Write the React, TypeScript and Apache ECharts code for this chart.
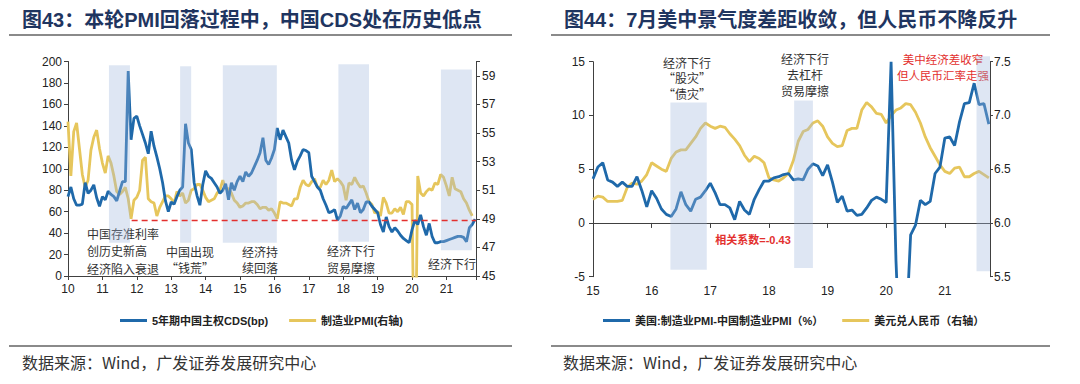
import React, { useEffect, useRef } from 'react';
import * as echarts from 'echarts';

// ---------- colours ----------
const BLUE = '#1f69aa';
const YELLOW = '#e6c65c';
const BAND = 'rgba(160,184,222,0.35)';
const AXIS = '#404040';
const RED = '#e3302e';

// ---------- Figure 43 data (monthly, start Jan 2010) ----------
const leftStartYear = 2010;
const cdsValues = [
  74, 83, 72, 66, 66, 67, 87, 77, 80, 85, 73, 65,
  74, 71, 79, 76, 74, 70, 79, 88, 88, 191, 127, 147,
  149, 140, 132, 124, 114, 135, 121, 111, 100, 87, 70, 60,
  69, 67, 74, 80, 83, 142, 124, 118, 87, 75, 66, 85,
  98, 93, 91, 87, 83, 77, 80, 86, 71, 87, 80, 88,
  93, 88, 97, 93, 96, 102, 108, 115, 129, 108, 104, 110,
  118, 138, 127, 136, 130, 124, 108, 99, 107, 112, 118, 117,
  115, 93, 88, 83, 80, 72, 66, 59, 60, 62, 52, 56,
  65, 63, 67, 71, 62, 68, 59, 62, 69, 69, 65, 62,
  59, 48, 41, 55, 46, 41, 45, 42, 38, 35, 33, 31,
  43, 52, 48, 57, 46, 38, 49, 37, 31, 31, 32, 32,
  33, 34, 35, 36, 37, 37, 36, 32, 45, 48, 53,
];
const pmiValues = [
  55.8, 52.0, 55.1, 55.7, 53.9, 52.1, 51.2, 51.7, 53.8, 54.7, 55.2, 53.9,
  52.9, 52.2, 53.4, 52.9, 52.0, 50.9, 50.7, 50.9, 51.2, 50.4, 49.0, 50.3,
  50.5, 51.0, 53.1, 53.3, 50.4, 50.2, 50.1, 49.2, 49.8, 50.2, 50.6, 50.6,
  50.4, 50.1, 50.9, 50.6, 50.8, 50.1, 50.3, 51.0, 51.1, 51.4, 51.4, 51.0,
  50.5, 50.2, 50.3, 50.4, 50.8, 51.0, 51.7, 51.1, 51.1, 50.8, 50.3, 50.1,
  49.8, 49.9, 50.1, 50.1, 50.2, 50.2, 50.0, 49.7, 49.8, 49.8, 49.6, 49.7,
  49.4, 49.0, 50.2, 50.1, 50.1, 50.0, 49.9, 50.4, 50.4, 51.2, 51.7, 51.4,
  51.3, 51.6, 51.8, 51.2, 51.2, 51.7, 51.4, 51.7, 52.4, 51.6, 51.8, 51.6,
  51.3, 50.3, 51.5, 51.4, 51.9, 51.5, 51.2, 51.3, 50.8, 50.2, 50.0, 49.4,
  49.5, 49.2, 50.5, 50.1, 49.4, 49.4, 49.7, 49.5, 49.8, 49.3, 50.2, 50.2,
  50.0, 35.7, 52.0, 50.8, 50.6, 50.9, 51.1, 51.0, 51.5, 51.4, 52.1, 51.9,
  51.3, 50.6, 51.9, 51.1, 51.0, 50.9, 50.4, 50.1, 49.6, 49.2,
];
const pmiAxisBase = 45; // right axis runs 45 .. 60
// shaded periods: [from, to, low bp, high bp]
const leftBands = [
  [2011.19, 2011.80, 31, 196.5],
  [2013.26, 2013.58, 31, 195.6],
  [2014.50, 2016.07, 31, 196.5],
  [2017.86, 2018.75, 32, 197.5],
  [2020.84, 2021.74, 24, 192.5],
];
// red dashed CDS low level
const cdsLowLine = [[2011.85, 51.7], [2021.86, 51.7]];
const leftXMin = 2010;
const leftXMax = 2021.86;

// ---------- Figure 44 data (monthly, start Jan 2015) ----------
const rightStartYear = 2015;
const pmiGapValues = [
  4.1, 5.2, 5.6, 4.0, 3.8, 3.4, 3.8, 3.4, 3.4, 4.3, 3.0, 1.5,
  3.0, 2.3, 1.3, 0.8, 0.6, 1.3, 2.9, 1.7, 1.1, 2.2, 2.4, 3.0,
  3.7, 2.8, 1.7, 1.7, 1.4, 0.3, 2.0, 1.2, 0.8, 2.2, 3.1, 3.9,
  3.9, 4.2, 4.3, 4.5, 4.6, 4.0, 4.1, 4.0, 5.0, 5.5, 5.3, 4.4,
  5.4, 3.8, 1.9, 2.5, 1.1, 1.2, 0.7, 0.8, 1.4, 2.1, 2.4, 2.2,
  1.9, 15.0, -3.5, -14.7, -10.8, -1.1, -0.2, 2.1, 1.7, 2.0, 4.6, 5.2,
  7.9, 8.0, 7.2, 9.4, 11.1, 11.2, 13.0, 11.0, 11.1, 9.2,
];
const usdCnyValues = [
  6.22, 6.25, 6.24, 6.20, 6.20, 6.20, 6.21, 6.33, 6.37, 6.36, 6.39, 6.45,
  6.56, 6.53, 6.50, 6.48, 6.60, 6.66, 6.68, 6.68, 6.74, 6.80, 6.88, 6.93,
  6.90, 6.88, 6.90, 6.89, 6.83, 6.78, 6.72, 6.63, 6.57, 6.62, 6.60, 6.56,
  6.42, 6.40, 6.39, 6.42, 6.46, 6.58, 6.76, 6.85, 6.87, 6.93, 6.95, 6.90,
  6.80, 6.74, 6.71, 6.72, 6.86, 6.88, 6.88, 7.05, 7.12, 7.08, 7.02, 7.01,
  6.93, 7.00, 7.05, 7.07, 7.11, 7.10, 7.03, 6.93, 6.80, 6.70, 6.62, 6.54,
  6.48, 6.46, 6.51, 6.52, 6.43, 6.43, 6.46, 6.48, 6.45, 6.42,
];
const rightBands = [
  [2016.32, 2016.94, -4.35, 11.2],
  [2018.43, 2018.75, -4.2, 11.4],
  [2021.54, 2021.77, -4.5, 15.5],
];
const rightXMin = 2015;
const rightXMax = 2021.77;

// ---------- texts ----------
const title43 = '图43：本轮PMI回落过程中，中国CDS处在历史低点';
const title44 = '图44：7月美中景气度差距收敛，但人民币不降反升';
const sourceText = '数据来源：Wind，广发证券发展研究中心';
const legendLeft = ['5年期中国主权CDS(bp)', '制造业PMI(右轴)'];
const legendRight = ['美国:制造业PMI-中国制造业PMI（%）', '美元兑人民币（右轴）'];

const LATIN = '"Liberation Sans", Arial, "Noto Sans CJK SC", sans-serif';
const CJK = '"Noto Sans CJK SC", "Liberation Sans", sans-serif';

const monthPos = (start: number, i: number) => start + i / 12;
const yearLabel = (v: number) => (Math.abs(v - Math.round(v)) < 1e-6 ? String(Math.round(v) % 100) : '');

const bandRender = (params: any, api: any) => {
  const a = api.coord([api.value(0), api.value(3)]);
  const b = api.coord([api.value(1), api.value(2)]);
  return {
    type: 'rect',
    silent: true,
    shape: { x: a[0], y: a[1], width: b[0] - a[0], height: b[1] - a[1] },
    style: { fill: BAND },
  };
};

const textEl = (x: number, y: number, text: string, opts: any = {}) => ({
  type: 'text',
  x,
  y,
  silent: true,
  style: {
    text,
    fill: opts.fill || '#333',
    fontSize: opts.fontSize || 12,
    fontWeight: opts.fontWeight || 'normal',
    fontFamily: opts.fontFamily || CJK,
    lineHeight: opts.lineHeight || 17,
    textAlign: opts.align || 'left',
    align: opts.align || 'left',
    textVerticalAlign: opts.valign || 'middle',
    verticalAlign: opts.valign || 'middle',
  },
});

const note = (x: number, yFirst: number, lines: string[], lh: number, opts: any = {}) =>
  textEl(x, yFirst - lh / 2, lines.join('\n'), { ...opts, lineHeight: lh, valign: 'top' });

const hLine = (x1: number, x2: number, y: number) => ({
  type: 'line',
  silent: true,
  shape: { x1, y1: y, x2, y2: y },
  style: { stroke: '#8a8a8a', lineWidth: 2 },
});

const axisCommon = {
  axisLine: { show: true, lineStyle: { color: AXIS, width: 1 } },
  axisTick: { show: true, length: 4, lineStyle: { color: AXIS, width: 1 } },
  splitLine: { show: false },
  axisLabel: { fontSize: 12, color: '#222', fontFamily: LATIN },
};

export default function App() {
  const ref = useRef<HTMLDivElement>(null);

  useEffect(() => {
    if (!ref.current) return;
    const chart = echarts.init(ref.current, undefined, { renderer: 'svg' });

    const option: any = {
      animation: false,
      backgroundColor: '#ffffff',
      grid: [
        { left: 68, top: 61.5, width: 408, height: 214.5, containLabel: false },
        { left: 593, top: 61.7, width: 397, height: 215, containLabel: false },
      ],
      xAxis: [
        {
          type: 'value', gridIndex: 0, min: leftXMin, max: leftXMax, interval: 1,
          ...axisCommon,
          axisLine: { ...axisCommon.axisLine, onZero: false },
          axisLabel: { ...axisCommon.axisLabel, margin: 7, formatter: yearLabel },
        },
        {
          type: 'value', gridIndex: 1, min: rightXMin, max: rightXMax, interval: 1, position: 'bottom',
          ...axisCommon,
          axisLine: { show: false, onZero: false },
          axisTick: { show: false },
          axisLabel: { ...axisCommon.axisLabel, margin: 8, formatter: yearLabel },
        },
        {
          type: 'value', gridIndex: 1, min: rightXMin, max: rightXMax, interval: 1, position: 'bottom',
          ...axisCommon,
          axisLine: { ...axisCommon.axisLine, onZero: true },
          axisTick: { ...axisCommon.axisTick, length: 5 },
          axisLabel: { show: false },
        },
      ],
      yAxis: [
        {
          type: 'value', gridIndex: 0, min: 0, max: 200, interval: 20, position: 'left',
          ...axisCommon,
          axisLabel: { ...axisCommon.axisLabel, margin: 6 },
        },
        {
          type: 'value', gridIndex: 0, min: 0, max: 15, interval: 2, position: 'right',
          ...axisCommon,
          axisLabel: {
            ...axisCommon.axisLabel, margin: 6,
            formatter: (v: number) => (Math.abs(v % 2) < 1e-6 ? String(Math.round(v + pmiAxisBase)) : ''),
          },
        },
        {
          type: 'value', gridIndex: 1, min: -5, max: 15, interval: 5, position: 'left',
          ...axisCommon,
          axisLabel: { ...axisCommon.axisLabel, margin: 8 },
        },
        {
          type: 'value', gridIndex: 1, min: 5.5, max: 7.5, interval: 0.5, position: 'right',
          ...axisCommon,
          axisTick: { ...axisCommon.axisTick, length: 3 },
          axisLabel: { ...axisCommon.axisLabel, margin: 4, formatter: (v: number) => v.toFixed(1) },
        },
      ],
      legend: [
        {
          data: legendLeft, left: 115, top: 310, icon: 'rect', itemWidth: 27, itemHeight: 3, itemGap: 21,
          selectedMode: false,
          textStyle: { fontSize: 11, fontWeight: 'bold', color: '#222', fontFamily: LATIN },
        },
        {
          data: legendRight, left: 598, top: 310, icon: 'rect', itemWidth: 27, itemHeight: 3, itemGap: 19,
          selectedMode: false,
          textStyle: { fontSize: 11, fontWeight: 'bold', color: '#222', fontFamily: LATIN },
        },
      ],
      series: [
        {
          name: legendLeft[1], type: 'line', xAxisIndex: 0, yAxisIndex: 1, z: 2,
          data: pmiValues.map((v, i) => [monthPos(leftStartYear, i), v - pmiAxisBase]),
          showSymbol: false, symbol: 'none', clip: true,
          lineStyle: { color: YELLOW, width: 2.8 }, itemStyle: { color: YELLOW },
        },
        {
          name: legendLeft[0], type: 'line', xAxisIndex: 0, yAxisIndex: 0, z: 3,
          data: cdsValues.map((v, i) => [monthPos(leftStartYear, i), v]),
          showSymbol: false, symbol: 'none', clip: true,
          lineStyle: { color: BLUE, width: 2.8 }, itemStyle: { color: BLUE },
        },
        {
          name: 'bands43', type: 'custom', xAxisIndex: 0, yAxisIndex: 0, z: 10, silent: true,
          renderItem: bandRender, encode: { x: [0, 1], y: [2, 3] }, data: leftBands,
        },
        {
          name: 'low43', type: 'line', xAxisIndex: 0, yAxisIndex: 0, z: 12, silent: true,
          data: cdsLowLine, showSymbol: false, symbol: 'none',
          lineStyle: { color: RED, width: 1.5, type: [6, 4] },
        },
        {
          name: legendRight[1], type: 'line', xAxisIndex: 1, yAxisIndex: 3, z: 2,
          data: usdCnyValues.map((v, i) => [monthPos(rightStartYear, i), v]),
          showSymbol: false, symbol: 'none', clip: true,
          lineStyle: { color: YELLOW, width: 2.8 }, itemStyle: { color: YELLOW },
        },
        {
          name: legendRight[0], type: 'line', xAxisIndex: 1, yAxisIndex: 2, z: 3,
          data: pmiGapValues.map((v, i) => [monthPos(rightStartYear, i), v]),
          showSymbol: false, symbol: 'none', clip: true,
          lineStyle: { color: BLUE, width: 2.8 }, itemStyle: { color: BLUE },
        },
        {
          name: 'bands44', type: 'custom', xAxisIndex: 1, yAxisIndex: 2, z: 10, silent: true,
          renderItem: bandRender, encode: { x: [0, 1], y: [2, 3] }, data: rightBands,
        },
      ],
      graphic: {
        elements: [
          textEl(22, 20, title43, { fontSize: 20, fontWeight: 'bold', fill: '#1f3560', fontFamily: LATIN }),
          textEl(564, 20, title44, { fontSize: 20, fontWeight: 'bold', fill: '#1f3560', fontFamily: LATIN }),
          hLine(9, 512, 35),
          hLine(551, 1050, 35),
          hLine(9, 512, 346),
          hLine(551, 1050, 346),
          textEl(22, 362, sourceText, { fontSize: 16, fill: '#333', fontFamily: CJK }),
          textEl(563, 362, sourceText, { fontSize: 16, fill: '#333', fontFamily: CJK }),
          // Figure 43 annotations
          note(87, 233, ['中国存准利率', '创历史新高', '经济陷入衰退'], 17.5),
          note(190, 251, ['中国出现', '“钱荒”'], 16.5, { align: 'center' }),
          note(260, 251, ['经济持', '续回落'], 16.5, { align: 'center' }),
          note(351, 250, ['经济下行', '贸易摩擦'], 17, { align: 'center' }),
          note(452, 263, ['经济下行'], 17, { align: 'center' }),
          // Figure 44 annotations
          note(687, 62.7, ['经济下行', '“股灾”', '“债灾”'], 15.3, { align: 'center' }),
          note(805, 58.5, ['经济下行', '去杠杆', '贸易摩擦'], 16, { align: 'center' }),
          note(943, 58.5, ['美中经济差收窄', '但人民币汇率走强'], 16.5, { align: 'center', fill: RED, fontSize: 11.5 }),
          textEl(753, 240, '相关系数=-0.43', { align: 'center', fill: RED, fontSize: 11, fontWeight: 'bold', fontFamily: LATIN }),
        ],
      },
    };

    chart.setOption(option);
    return () => chart.dispose();
  }, []);

  return (
    <div
      ref={ref}
      style={{ position: 'absolute', left: 0, top: 0, width: 1080, height: 384, background: '#fff' }}
    />
  );
}
